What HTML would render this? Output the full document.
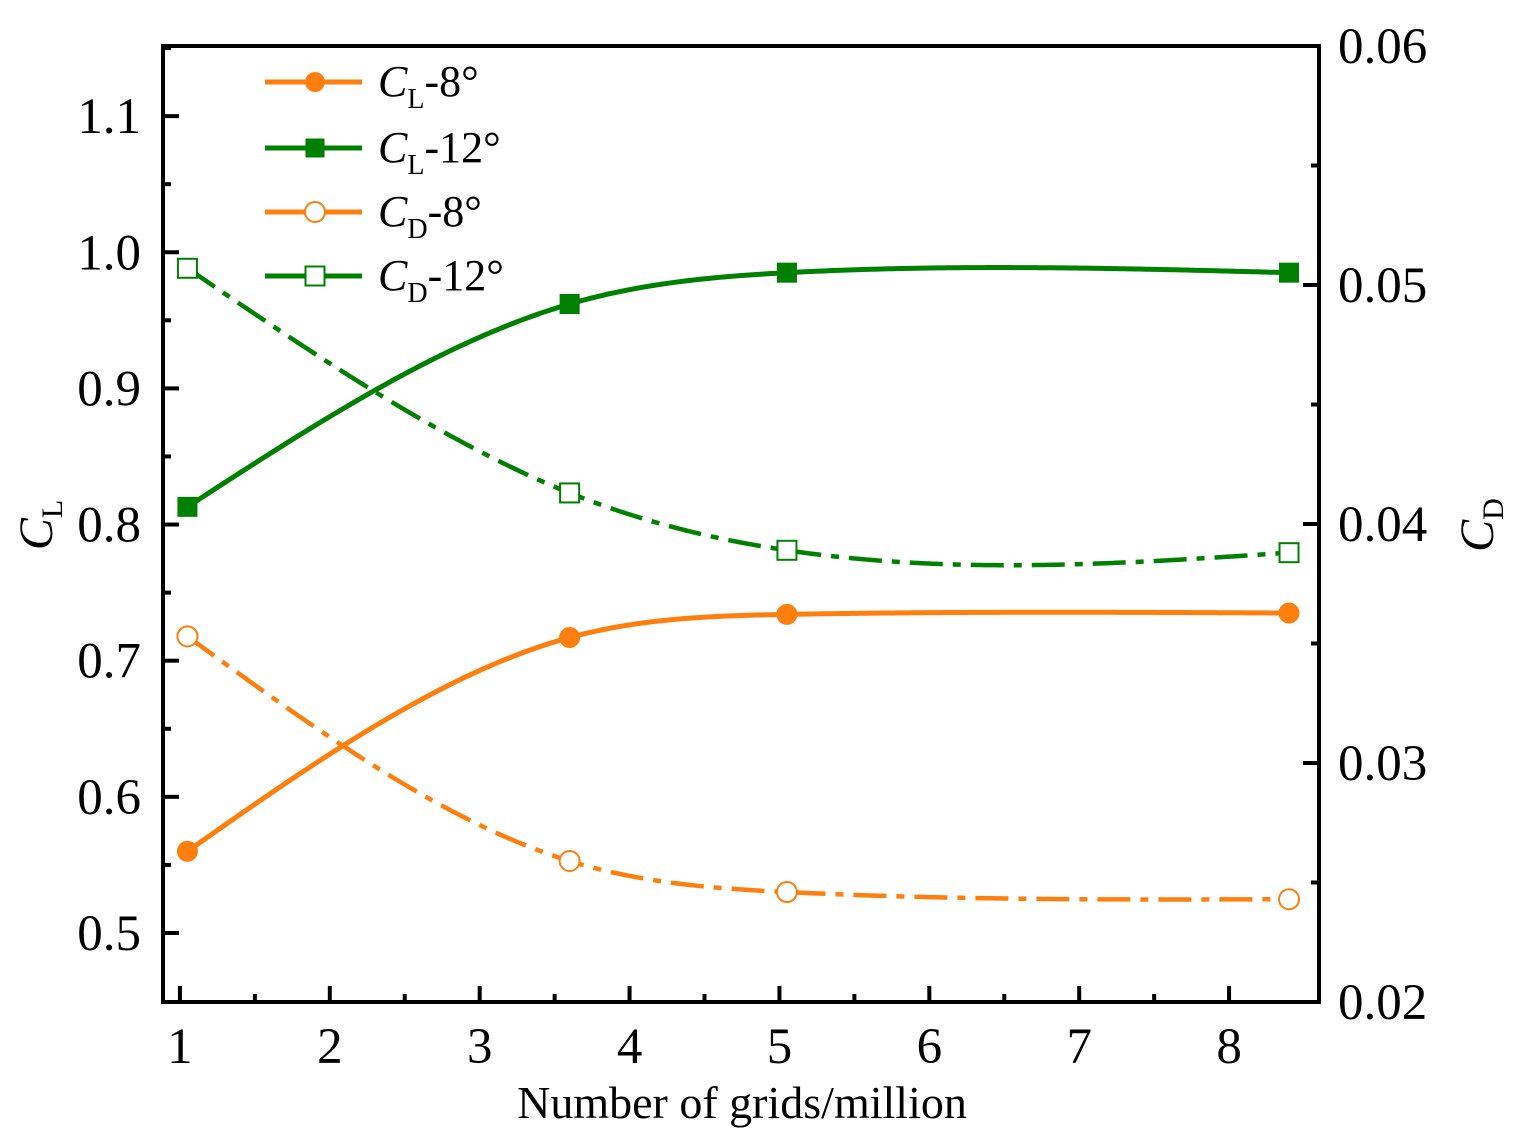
<!DOCTYPE html>
<html><head><meta charset="utf-8">
<style>
html,body{margin:0;padding:0;background:#fff;}
svg{display:block;}
text{font-family:"Liberation Serif",serif;fill:#000;}
</style></head>
<body>
<svg id="chart" width="1513" height="1141" viewBox="0 0 1513 1141" xmlns="http://www.w3.org/2000/svg">
<g id="plot"></g>
<g id="axes"></g>
</svg>
<script>
const gridCounts = [1.05, 3.6, 5.05, 8.4];
const clAt8 = [0.560, 0.717, 0.734, 0.735];
const clAt12 = [0.813, 0.962, 0.985, 0.985];
const cdAt8 = [0.0353, 0.0259, 0.0246, 0.0243];
const cdAt12 = [0.0507, 0.0413, 0.0389, 0.0388];
const xTicks = [1,2,3,4,5,6,7,8];
const clTicks = [0.5,0.6,0.7,0.8,0.9,1.0,1.1];
const clTickLabels = ["0.5","0.6","0.7","0.8","0.9","1.0","1.1"];
const cdTicks = [0.02,0.03,0.04,0.05,0.06];
const cdTickLabels = ["0.02","0.03","0.04","0.05","0.06"];

const L=163,R=1319,T=46,B=1002;
const xMin=0.887,xMax=8.6,clMin=0.4493,clMax=1.1515,cdMin=0.02,cdMax=0.06;
const X=v=>L+(v-xMin)/(xMax-xMin)*(R-L);
const YL=v=>B-(v-clMin)/(clMax-clMin)*(B-T);
const YR=v=>B-(v-cdMin)/(cdMax-cdMin)*(B-T);
const NS="http://www.w3.org/2000/svg";
function mk(tag,attrs,parent){const e=document.createElementNS(NS,tag);for(const k in attrs)e.setAttribute(k,attrs[k]);parent.appendChild(e);return e;}
const plot=document.getElementById('plot'),axes=document.getElementById('axes');
const ORANGE='#ff7f0e',GREEN='#008000';

// natural cubic spline y(x)
function spline(xs,ys){
  const n=xs.length,h=[],a=[],l=[1],mu=[0],z=[0],c=new Array(n).fill(0),b=[],d=[];
  for(let i=0;i<n-1;i++)h[i]=xs[i+1]-xs[i];
  for(let i=1;i<n-1;i++)a[i]=3/h[i]*(ys[i+1]-ys[i])-3/h[i-1]*(ys[i]-ys[i-1]);
  for(let i=1;i<n-1;i++){l[i]=2*(xs[i+1]-xs[i-1])-h[i-1]*mu[i-1];mu[i]=h[i]/l[i];z[i]=(a[i]-h[i-1]*z[i-1])/l[i];}
  l[n-1]=1;z[n-1]=0;c[n-1]=0;
  for(let j=n-2;j>=0;j--){c[j]=z[j]-mu[j]*c[j+1];b[j]=(ys[j+1]-ys[j])/h[j]-h[j]*(c[j+1]+2*c[j])/3;d[j]=(c[j+1]-c[j])/(3*h[j]);}
  return x=>{let i=0;while(i<n-2&&x>xs[i+1])i++;const t=x-xs[i];return ys[i]+b[i]*t+c[i]*t*t+d[i]*t*t*t;};
}
const series=[
 {name:'cl-8-series',vals:clAt8,y:YL,color:ORANGE,dash:null,marker:'circle',fill:true},
 {name:'cl-12-series',vals:clAt12,y:YL,color:GREEN,dash:null,marker:'square',fill:true},
 {name:'cd-8-series',vals:cdAt8,y:YR,color:ORANGE,dash:'33 10 8 10',marker:'circle',fill:false},
 {name:'cd-12-series',vals:cdAt12,y:YR,color:GREEN,dash:'33 10 8 10',marker:'square',fill:false}
];
function marker(type,fill,color,cx,cy,parent){
  if(type==='circle') return mk('circle',{cx,cy,r:10,fill:fill?color:'#fff',stroke:color,'stroke-width':fill?1:2},parent);
  return mk('rect',{x:cx-9.5,y:cy-9.5,width:19,height:19,fill:fill?color:'#fff',stroke:color,'stroke-width':fill?1:2},parent);
}
series.forEach(s=>{
  const g=mk('g',{},plot);
  
  
  const f=spline(gridCounts,s.vals);
  const x0=gridCounts[0],x1=gridCounts[gridCounts.length-1];
  let d='';
  for(let k=0;k<=300;k++){const x=x0+(x1-x0)*k/300;d+=(k?'L':'M')+X(x).toFixed(2)+','+s.y(f(x)).toFixed(2);}
  const p=mk('path',{d,fill:'none',stroke:s.color,'stroke-width':s.dash?4.5:5},g);
  if(s.dash)p.setAttribute('stroke-dasharray',s.dash);
  
  
  gridCounts.forEach((x,i)=>{
    const m=marker(s.marker,s.fill,s.color,X(x),s.y(s.vals[i]),g);
    
    
  });
});

const fr=mk('rect',{x:L,y:T,width:R-L,height:B-T,fill:'none',stroke:'#000','stroke-width':4},axes);


xTicks.forEach(v=>{
  mk('line',{x1:X(v),x2:X(v),y1:B,y2:B-16,stroke:'#000','stroke-width':4},axes);
  if(v<8) mk('line',{x1:X(v+0.5),x2:X(v+0.5),y1:B,y2:B-8,stroke:'#000','stroke-width':4},axes);
  const t=mk('text',{x:X(v),y:1063,'font-size':51,'text-anchor':'middle'},axes);t.textContent=v;
  
  
});
clTicks.forEach((v,i)=>{
  mk('line',{x1:L,x2:L+16,y1:YL(v),y2:YL(v),stroke:'#000','stroke-width':4},axes);
  mk('line',{x1:L,x2:L+8,y1:YL(v+0.05),y2:YL(v+0.05),stroke:'#000','stroke-width':4},axes);
  const t=mk('text',{x:141,y:YL(v)+17,'font-size':51,'text-anchor':'end'},axes);t.textContent=clTickLabels[i];
  
  
});
cdTicks.forEach((v,i)=>{
  mk('line',{x1:R,x2:R-16,y1:YR(v),y2:YR(v),stroke:'#000','stroke-width':4},axes);
  if(v<0.06) mk('line',{x1:R,x2:R-8,y1:YR(v+0.005),y2:YR(v+0.005),stroke:'#000','stroke-width':4},axes);
  const t=mk('text',{x:1338,y:YR(v)+17,'font-size':51},axes);t.textContent=cdTickLabels[i];
  
  
});
</script>
<svg style="position:absolute;left:0;top:0" width="1513" height="1141">
<text x="742" y="1118" font-size="46" text-anchor="middle" style="font-family:'Liberation Serif',serif">Number of grids/million</text>
<g transform="translate(52,525) rotate(-90)"><text x="0" y="0" font-size="48" text-anchor="middle" font-style="italic" style="font-family:'Liberation Serif',serif">C<tspan font-size="30" font-style="normal" dy="10">L</tspan></text></g>
<g transform="translate(1493,525) rotate(-90)"><text x="0" y="0" font-size="48" text-anchor="middle" font-style="italic" style="font-family:'Liberation Serif',serif">C<tspan font-size="30" font-style="normal" dy="10">D</tspan></text></g>
<g>
<line x1="265" x2="362" y1="82" y2="82" stroke="#ff7f0e" stroke-width="5"/><circle cx="315" cy="82" r="10" fill="#ff7f0e"/>
<text x="378" y="96" font-size="44" style="font-family:'Liberation Serif',serif"><tspan font-style="italic">C</tspan><tspan font-size="28" dy="12">L</tspan><tspan dy="-12">-8°</tspan></text></g>
<g>
<line x1="265" x2="362" y1="148" y2="148" stroke="#008000" stroke-width="5"/><rect x="305.5" y="138.5" width="19" height="19" fill="#008000"/>
<text x="378" y="162" font-size="44" style="font-family:'Liberation Serif',serif"><tspan font-style="italic">C</tspan><tspan font-size="28" dy="12">L</tspan><tspan dy="-12">-12°</tspan></text></g>
<g>
<line x1="265" x2="362" y1="212" y2="212" stroke="#ff7f0e" stroke-width="5"/><circle cx="315" cy="212" r="10" fill="#fff" stroke="#ff7f0e" stroke-width="2"/>
<text x="378" y="226" font-size="44" style="font-family:'Liberation Serif',serif"><tspan font-style="italic">C</tspan><tspan font-size="28" dy="12">D</tspan><tspan dy="-12">-8°</tspan></text></g>
<g>
<line x1="265" x2="362" y1="276" y2="276" stroke="#008000" stroke-width="5"/><rect x="305.5" y="266.5" width="19" height="19" fill="#fff" stroke="#008000" stroke-width="2"/>
<text x="378" y="290" font-size="44" style="font-family:'Liberation Serif',serif"><tspan font-style="italic">C</tspan><tspan font-size="28" dy="12">D</tspan><tspan dy="-12">-12°</tspan></text></g>
</svg>
</body></html>
